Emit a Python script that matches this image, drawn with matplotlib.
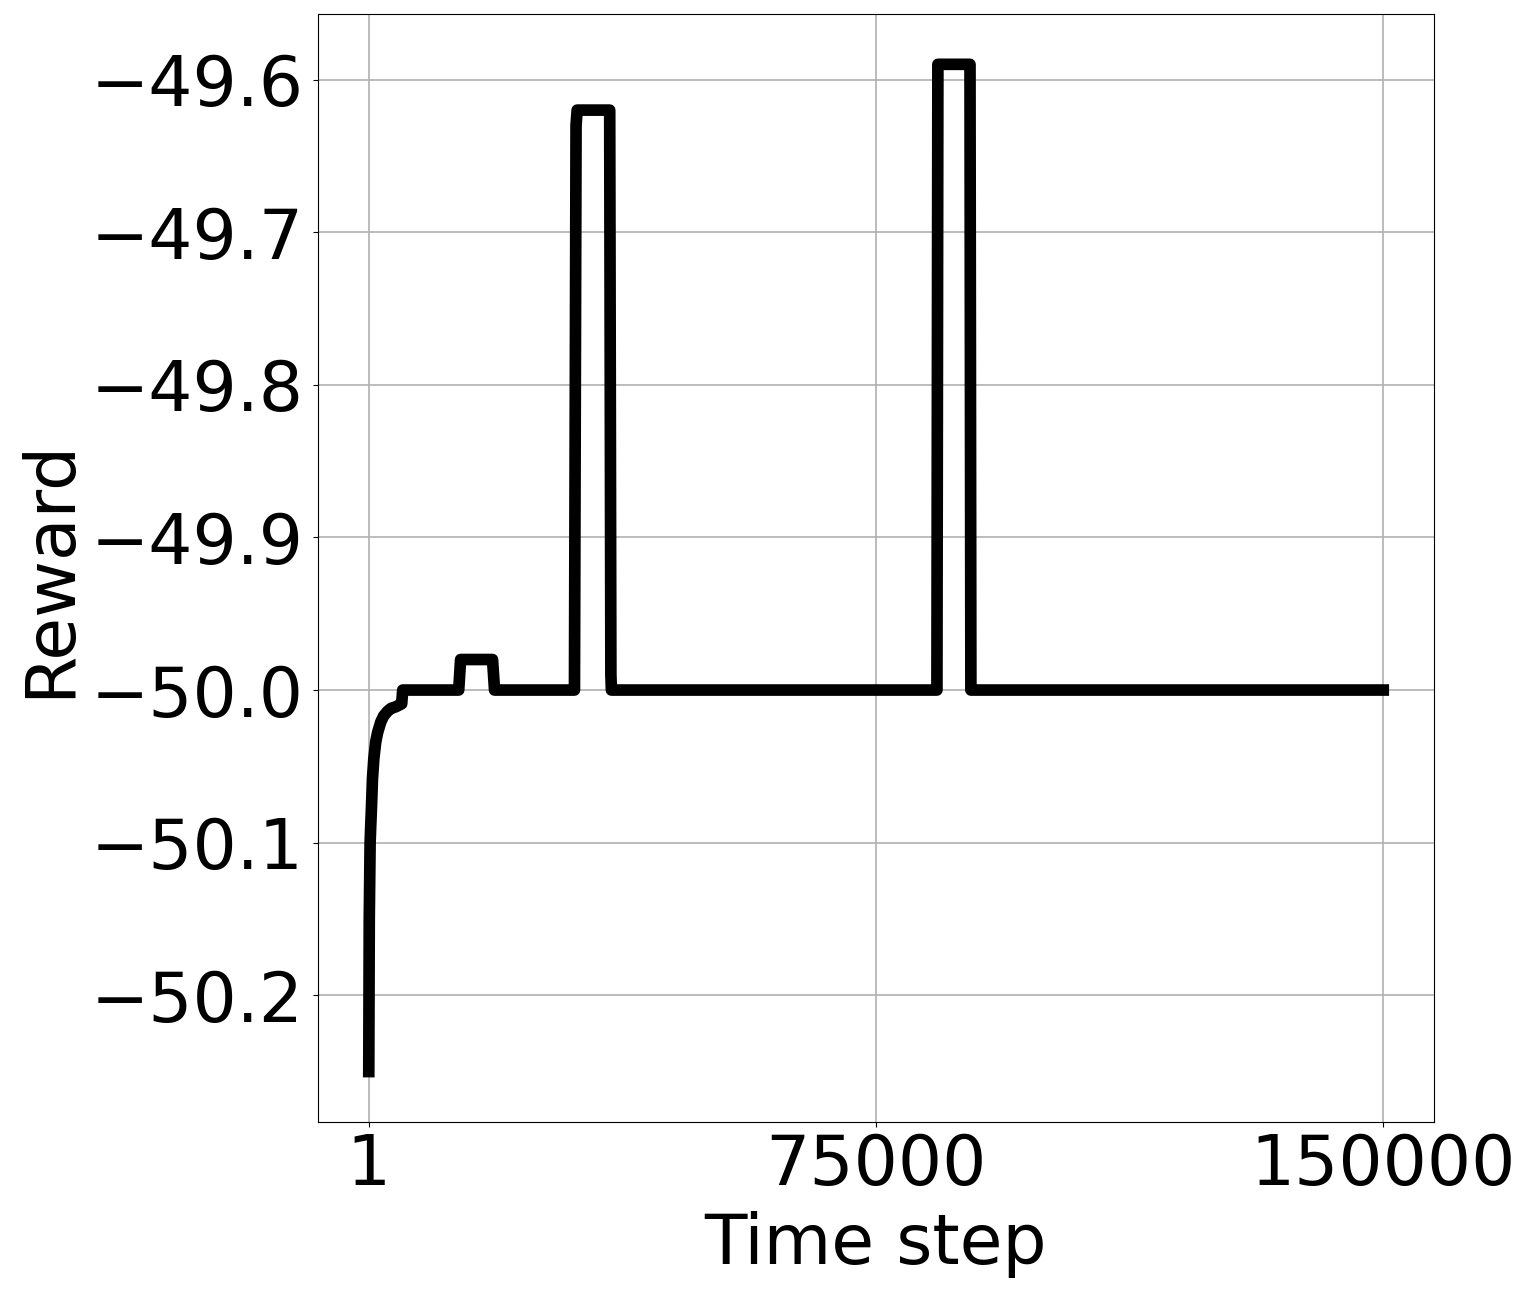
import matplotlib
matplotlib.use("Agg")
import matplotlib.pyplot as plt

# Time steps and reward values
time_steps = [1, 75, 150, 200, 300, 400, 550, 750, 1030, 1300, 1770, 2200, 2760, 3300, 3990, 4870, 5020,
              13300, 13580, 18300, 18600,
              30416, 30650, 30815, 35626, 35800, 35877,
              84010, 84150, 88900, 89030,
              150000]
reward = [-50.250, -50.150, -50.120, -50.100, -50.088, -50.077, -50.058, -50.045, -50.034, -50.028, -50.021, -50.017, -50.014, -50.012, -50.011, -50.009, -50.000,
          -50.000, -49.980, -49.980, -50.000,
          -50.000, -49.630, -49.620, -49.620, -49.990, -50.000,
          -50.000, -49.590, -49.590, -50.000,
          -50.000]

x_ticks = [1, 75000, 150000]
x_tick_labels = ["1", "75000", "150000"]
y_ticks = [-50.2, -50.1, -50.0, -49.9, -49.8, -49.7, -49.6]

fig = plt.figure(figsize=(15.32, 12.93), dpi=100)
ax = fig.add_axes([0.2076, 0.1323, 0.7284, 0.8569])
ax.plot(time_steps, reward, color="black", linewidth=8.4)
ax.set_xticks(x_ticks)
ax.set_xticklabels(x_tick_labels)
ax.set_yticks(y_ticks)
ax.grid(True, color="#b0b0b0", linewidth=1.2)
ax.tick_params(labelsize=50)
ax.tick_params(axis="y", pad=7)
ax.set_xlabel("Time step", fontsize=50, labelpad=9)
ax.set_ylabel("Reward", fontsize=50, labelpad=5)
fig.savefig("out.png", dpi=100)
